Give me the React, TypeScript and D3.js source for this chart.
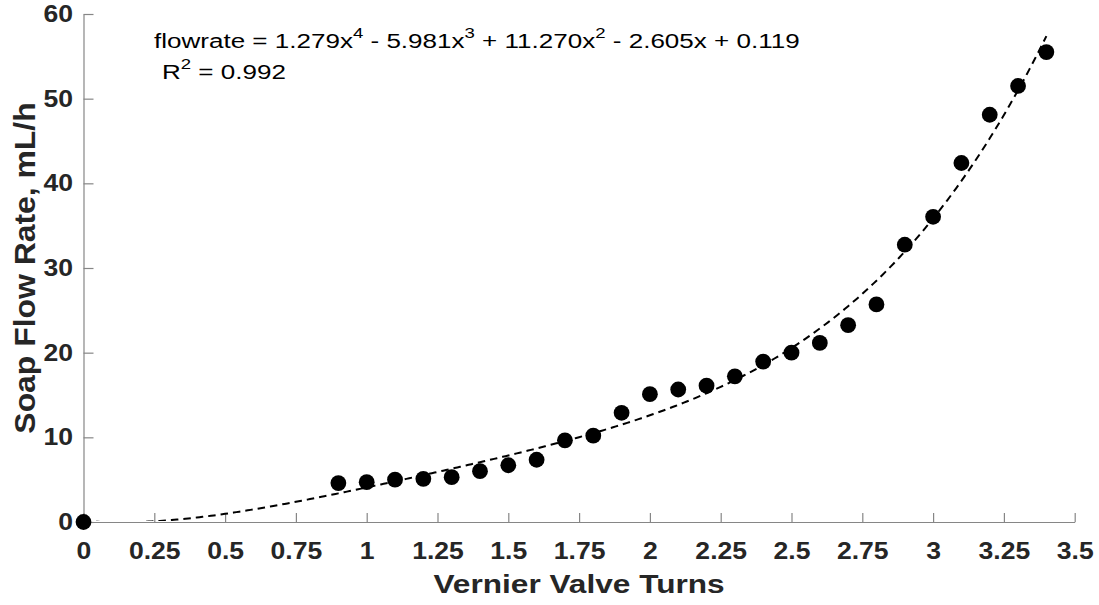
import {useEffect, useRef} from 'react';
import * as d3 from 'd3';

const [W, H] = [1099, 605];

// measured valve turns and flow rate (mL/h)
const turns = [0, 0.9, 1.0, 1.1, 1.2, 1.3, 1.4, 1.5, 1.6, 1.7, 1.8, 1.9, 2.0, 2.1, 2.2, 2.3, 2.4, 2.5, 2.6, 2.7, 2.8, 2.9, 3.0, 3.1, 3.2, 3.3, 3.4];
const flow = [0, 4.6, 4.7, 5.0, 5.1, 5.3, 6.0, 6.7, 7.35, 9.65, 10.2, 12.9, 15.1, 15.65, 16.1, 17.2, 18.95, 20.0, 21.15, 23.25, 25.7, 32.75, 36.05, 42.4, 48.1, 51.5, 55.5];

// 4th order fit shown on the chart, highest power first
const fitCoef = [1.279, -5.981, 11.270, -2.605, 0.119];
const fitRange = [0, 3.4];

const xTicks = [0, 0.25, 0.5, 0.75, 1, 1.25, 1.5, 1.75, 2, 2.25, 2.5, 2.75, 3, 3.25, 3.5];
const yTicks = [0, 10, 20, 30, 40, 50, 60];

const font = '"Liberation Sans", Arial, Helvetica, sans-serif';
// the original text is rendered wider than Arial, so stretch it a bit
const tickStretch = 1.13;
const textStretch = 1.24;

function FlowChart() {
    const svgRef = useRef<SVGSVGElement>(null);

    useEffect(() => {
        if (!svgRef.current) return;
        const svg = d3.select(svgRef.current);
        svg.selectAll('*').remove();

        const x = d3.scaleLinear().domain([0, 3.5]).range([83.5, 1074.7]);
        const y = d3.scaleLinear().domain([0, 60]).range([522, 14]);

        svg.append('defs').append('clipPath').attr('id', 'plotclip')
            .append('rect')
            .attr('x', x(0)).attr('y', y(60) - 2)
            .attr('width', x(3.5) - x(0)).attr('height', y(0) - y(60) + 1);

        const fmt = (d: number) => String(d);

        const xAxis = svg.append('g')
            .attr('transform', `translate(0,${y(0)})`)
            .call(d3.axisBottom(x).tickValues(xTicks).tickFormat(fmt as any).tickSizeInner(-9).tickSizeOuter(0).tickPadding(20));
        const yAxis = svg.append('g')
            .attr('transform', `translate(${x(0)},0)`)
            .call(d3.axisLeft(y).tickValues(yTicks).tickFormat(fmt as any).tickSizeInner(-10).tickSizeOuter(0).tickPadding(10.5));

        [xAxis, yAxis].forEach(a => {
            a.select('.domain').attr('stroke', '#868686').attr('stroke-width', 1.2);
            a.selectAll('.tick line').attr('stroke', '#868686').attr('stroke-width', 1.2);
            a.selectAll('.tick text')
                .attr('fill', '#262626')
                .attr('transform', `scale(${tickStretch},1)`)
                .style('font-family', font)
                .style('font-size', '23.5px')
                .style('font-weight', 'bold');
        });
        yAxis.selectAll('.tick text').attr('x', -10.5 / tickStretch);

        // data points
        svg.append('g').selectAll('circle')
            .data(turns)
            .join('circle')
            .attr('cx', d => x(d))
            .attr('cy', (d, i) => y(flow[i]))
            .attr('r', 7.9)
            .attr('fill', '#000');

        // fitted curve
        const poly = (t: number) => fitCoef.reduce((acc, c) => acc * t + c, 0);
        const samples = d3.range(fitRange[0], fitRange[1] + 1e-9, 0.01);
        const line = d3.line<number>().x(d => x(d)).y(d => y(poly(d)));
        svg.append('path')
            .datum(samples)
            .attr('clip-path', 'url(#plotclip)')
            .attr('d', line)
            .attr('fill', 'none')
            .attr('stroke', '#000')
            .attr('stroke-width', 2)
            .attr('stroke-dasharray', '7.5,5');

        // axis titles
        svg.append('text')
            .attr('transform', `translate(${(x(0) + x(3.5)) / 2},593) scale(${textStretch},1)`)
            .attr('text-anchor', 'middle')
            .attr('fill', '#262626')
            .style('font-family', font)
            .style('font-size', '25.5px')
            .style('font-weight', 'bold')
            .text('Vernier Valve Turns');

        svg.append('text')
            .attr('transform', `translate(35,${(y(0) + y(60)) / 2}) rotate(-90) scale(1.1,1)`)
            .attr('text-anchor', 'middle')
            .attr('fill', '#262626')
            .style('font-family', font)
            .style('font-size', '29px')
            .style('font-weight', 'bold')
            .text('Soap Flow Rate, mL/h');

        // equation annotation, superscripts raised with dy and dropped on the next run
        const writeRuns = (el: any, parts: [string, string | null][]) => {
            let drop = 0;
            parts.forEach(([base, sup]) => {
                el.append('tspan').attr('dy', drop).text(base);
                drop = 0;
                if (sup) {
                    el.append('tspan').attr('dy', -10).style('font-size', '15px').text(sup);
                    drop = 10;
                }
            });
        };

        const eq = svg.append('text')
            .attr('transform', `translate(154,48) scale(${textStretch},1)`)
            .attr('fill', '#000')
            .style('font-family', font)
            .style('font-size', '21px');
        writeRuns(eq, [
            ['flowrate = 1.279x', '4'],
            [' - 5.981x', '3'],
            [' + 11.270x', '2'],
            [' - 2.605x + 0.119', null],
        ]);

        const r2 = svg.append('text')
            .attr('transform', `translate(162,79) scale(${textStretch},1)`)
            .attr('fill', '#000')
            .style('font-family', font)
            .style('font-size', '21px');
        writeRuns(r2, [
            ['R', '2'],
            [' = 0.992', null],
        ]);
    }, []);

    return <svg ref={svgRef} width={W} height={H} style={{display: 'block'}} />;
}

export default function App() {
    return (
        <div style={{position: 'fixed', left: 0, top: 0, width: W, height: H, background: '#fff'}}>
            <FlowChart />
        </div>
    );
}
